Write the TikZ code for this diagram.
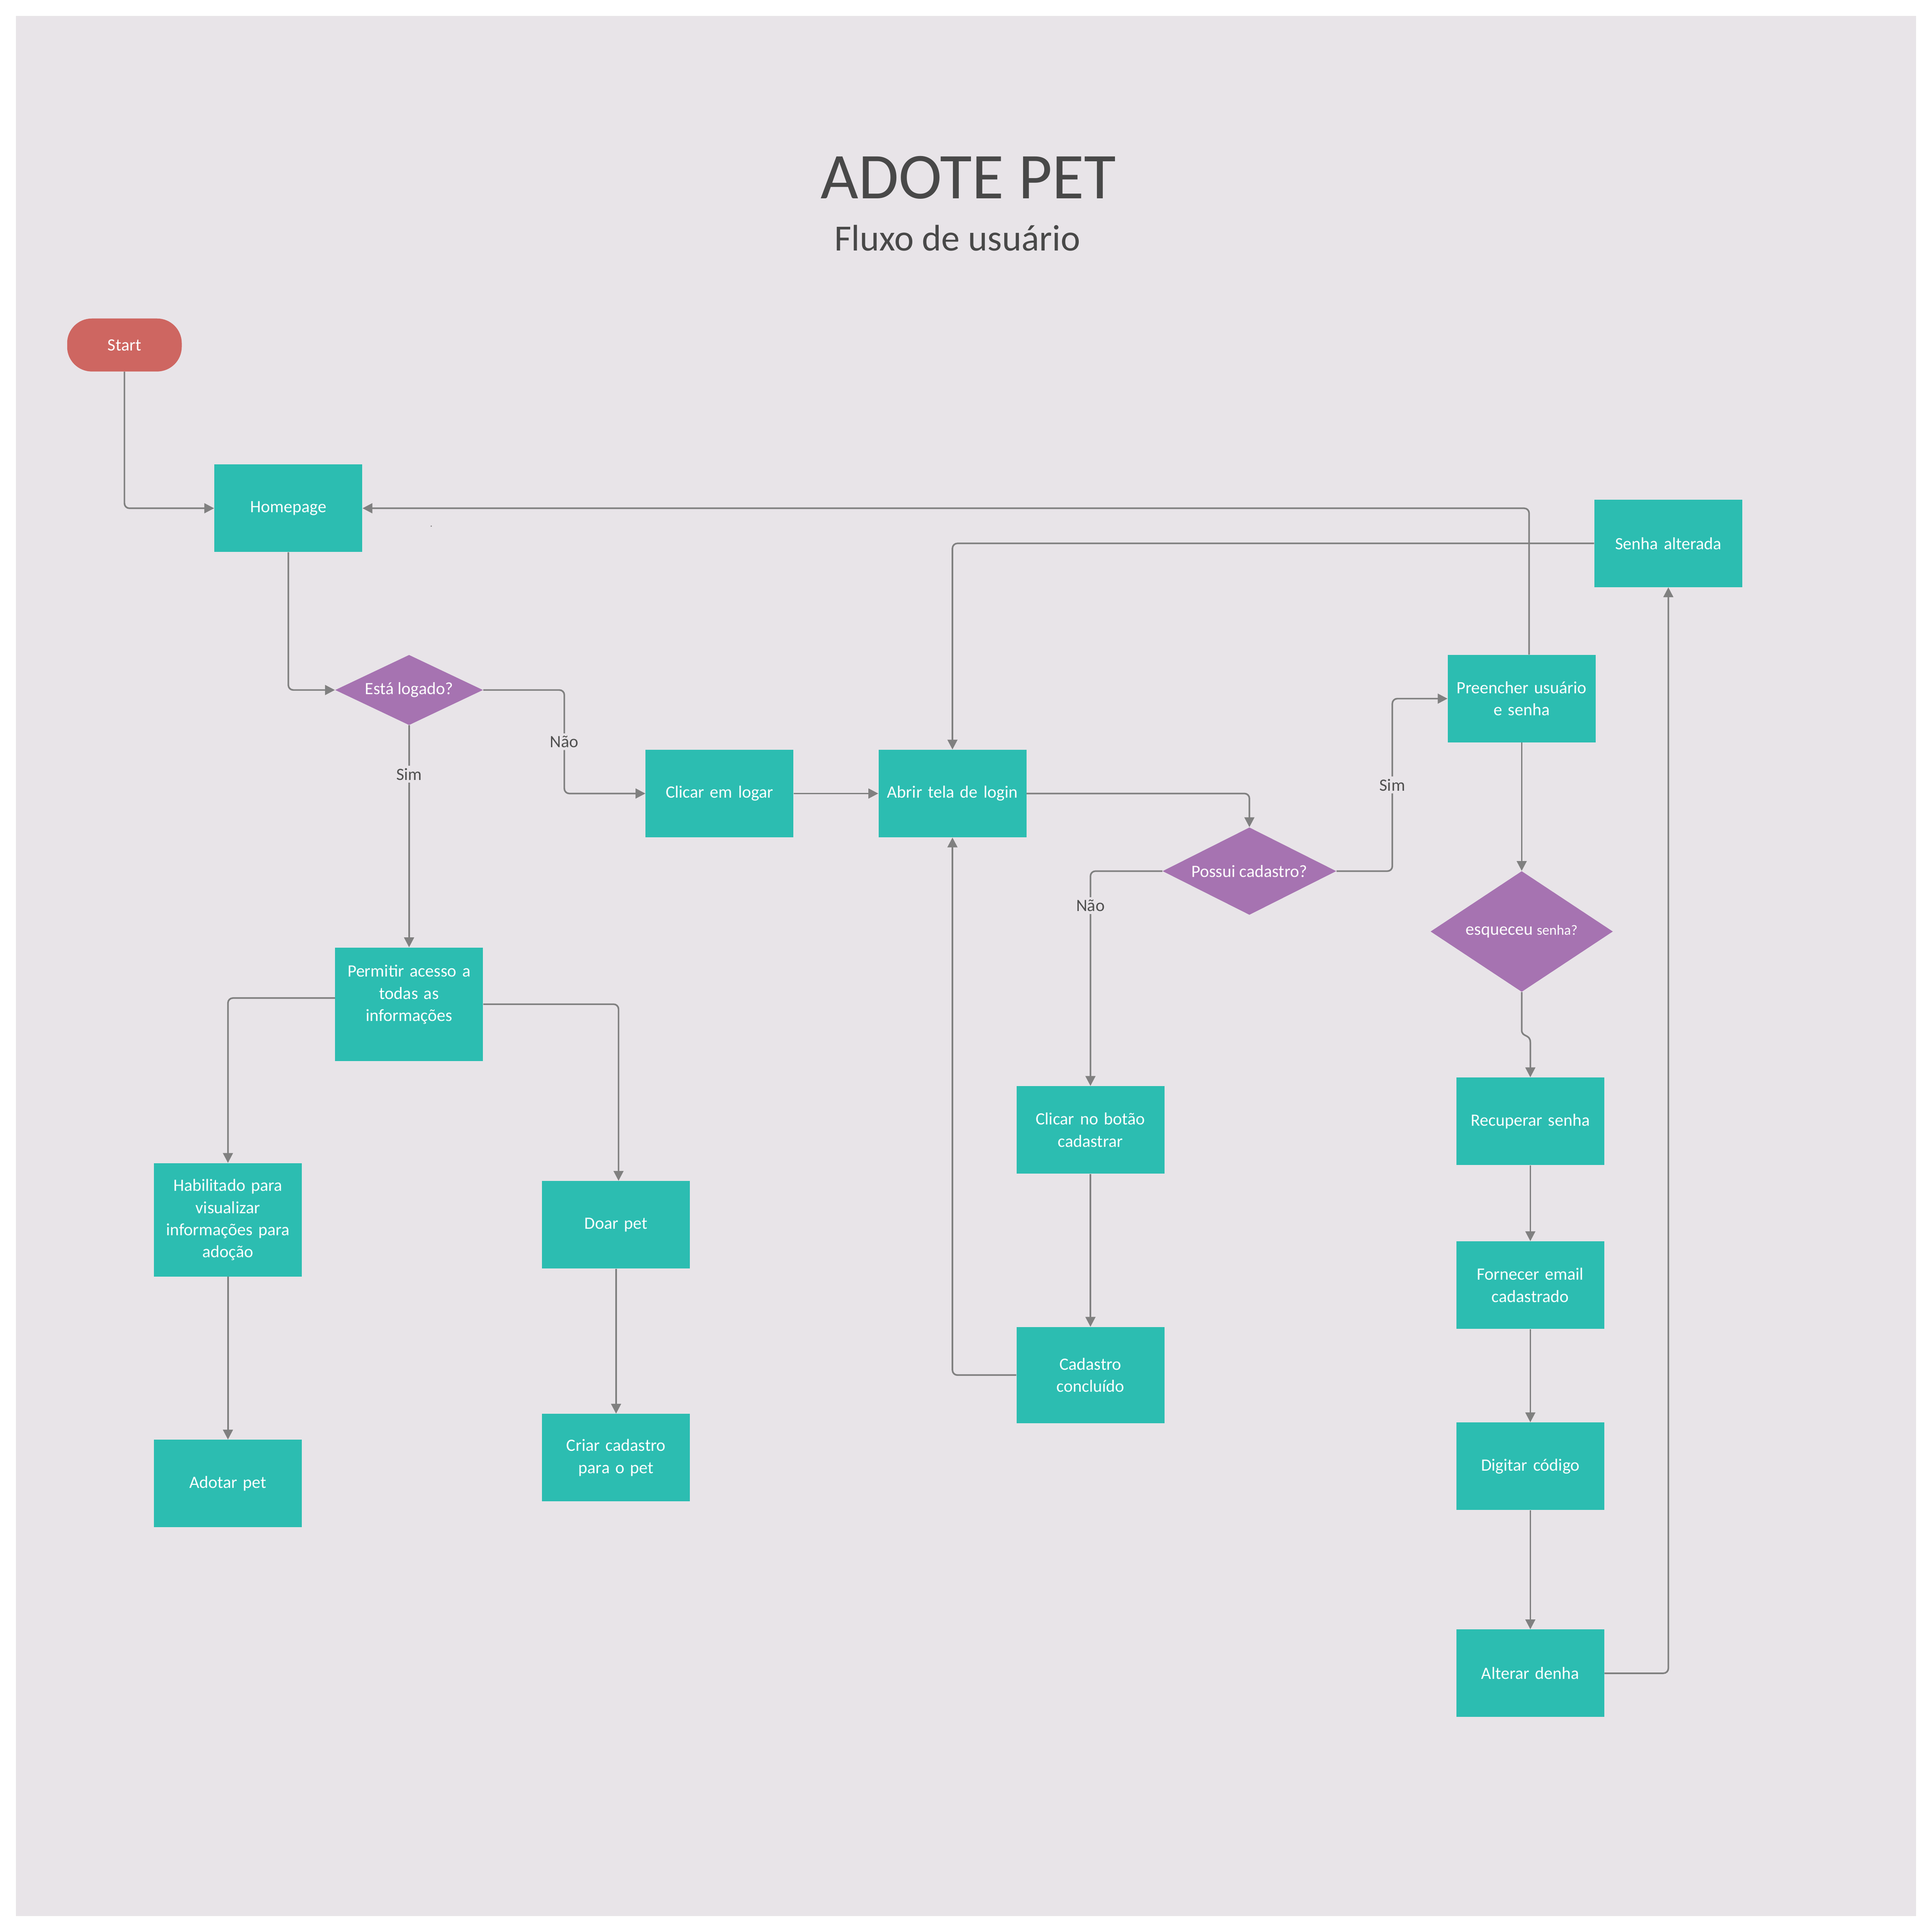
\documentclass[tikz,border=0pt]{standalone}
\usepackage{fontspec}
\setmainfont{Carlito}
\usetikzlibrary{shapes.geometric,arrows.meta}
\definecolor{bgc}{HTML}{E8E4E8}
\definecolor{tealc}{HTML}{2CBDB1}
\definecolor{purpc}{HTML}{A673B1}
\definecolor{redc}{HTML}{CE6661}
\definecolor{linec}{HTML}{808080}
\definecolor{titc}{HTML}{484848}
\definecolor{labc}{HTML}{505050}
\begin{document}
\begin{tikzpicture}[x=1pt,y=-1pt,
  box/.style={rectangle, fill=tealc, text=white, minimum width=120pt, minimum height=71pt,
    inner sep=2pt, text width=112pt, align=center, font=\fontsize{14}{18}\selectfont},
  dec/.style={diamond, fill=purpc, text=white, inner sep=0pt, font=\fontsize{14}{18}\selectfont},
  term/.style={rectangle, rounded corners=20pt, fill=redc, text=white, minimum width=93pt,
    minimum height=43pt, inner sep=0pt, font=\fontsize{14}{18}\selectfont},
  arr/.style={draw=linec, line width=1.3pt, rounded corners=4pt, -{Triangle[length=8pt,width=8pt]}},
  lbl/.style={fill=bgc, text=labc, inner sep=2pt, font=\fontsize{14}{18}\selectfont}]
\useasboundingbox (0,0) rectangle (1568,1568);
\fill[white] (0,0) rectangle (1568,1568);
\fill[bgc] (13,13) rectangle (1555,1555);

\node[font=\fontsize{53}{60}\selectfont, text=titc] (title) at (786,144) {ADOTE PET};
\node[font=\fontsize{30}{36}\selectfont, text=titc] (subtitle) at (777,193) {Fluxo de usuário};

\node[term] (start) at (101,280) {Start};
\node[box] (home) at (234,412.5) {Homepage};
\node[dec, minimum width=120pt, minimum height=57pt] (logado) at (332,560) {\makebox[0pt]{Está logado?}};
\node[box] (clicar) at (584,644) {Clicar em logar};
\node[box] (abrir) at (773,644) {Abrir tela de login};
\node[dec, minimum width=141pt, minimum height=71pt] (possui) at (1014,707) {\makebox[0pt]{Possui cadastro?}};
\node[box] (preencher) at (1235,567) {Preencher usuário\\ e senha};
\node[box] (senha) at (1354,441) {Senha alterada};
\node[dec, minimum width=148pt, minimum height=98pt] (esq) at (1235,756) {\makebox[0pt]{esqueceu {\fontsize{11.5}{14}\selectfont senha?}}};
\node[box] (rec) at (1242,910) {Recuperar senha};
\node[box] (forn) at (1242,1043) {Fornecer email\\ cadastrado};
\node[box] (dig) at (1242,1190) {Digitar código};
\node[box] (alt) at (1242,1358) {Alterar denha};
\node[box, minimum height=92pt] (perm) at (332,815) {Permitir acesso a\\ todas as\\ informações\\ \mbox{}};
\node[box, minimum height=92pt] (habil) at (185,990) {Habilitado para\\ visualizar\\ informações para\\ adoção};
\node[box] (doar) at (500,994) {Doar pet};
\node[box] (criar) at (500,1183) {Criar cadastro\\ para o pet};
\node[box] (adotar) at (185,1204) {Adotar pet};
\node[box] (botao) at (885,917) {Clicar no botão\\ cadastrar};
\node[box, minimum height=78pt] (conc) at (885,1116) {Cadastro\\ concluído};

\fill[linec] (350,427) circle (0.6pt);

\draw[arr] (start.south) |- (home.west);
\draw[arr] (home.south) |- (logado.west);
\draw[arr] (logado.east) -- (458,560) -- node[lbl]{Não} (458,644) -- (clicar.west);
\draw[arr] (logado.south) -- node[lbl, pos=0.22]{Sim} (perm.north);
\draw[arr] (clicar.east) -- (abrir.west);
\draw[arr] (abrir.east) -| (possui.north);
\draw[arr] (possui.west) -| (botao.north);
\node[lbl] (nao2) at (885,735) {Não};
\draw[arr] (possui.east) -- (1130,707) -- node[lbl]{Sim} (1130,567) -- (preencher.west);
\draw[arr] (preencher.south) -- (esq.north);
\draw[arr] (esq.south) -- (1235,832) .. controls (1235,842) and (1242,839) .. (1242,850) -- (rec.north);
\draw[arr] (rec.south) -- (forn.north);
\draw[arr] (forn.south) -- (dig.north);
\draw[arr] (dig.south) -- (alt.north);
\draw[arr] (alt.east) -| (senha.south);
\draw[arr] (senha.west) -| (abrir.north);
\draw[arr] ([xshift=6pt]preencher.north) |- (home.east);
\draw[arr] ([yshift=5pt]perm.west) -| (habil.north);
\draw[arr] (perm.east) -| ([xshift=2pt]doar.north);
\draw[arr] (habil.south) -- (adotar.north);
\draw[arr] (doar.south) -- (criar.north);
\draw[arr] (botao.south) -- (conc.north);
\draw[arr] (conc.west) -| (abrir.south);
\end{tikzpicture}
\end{document}
